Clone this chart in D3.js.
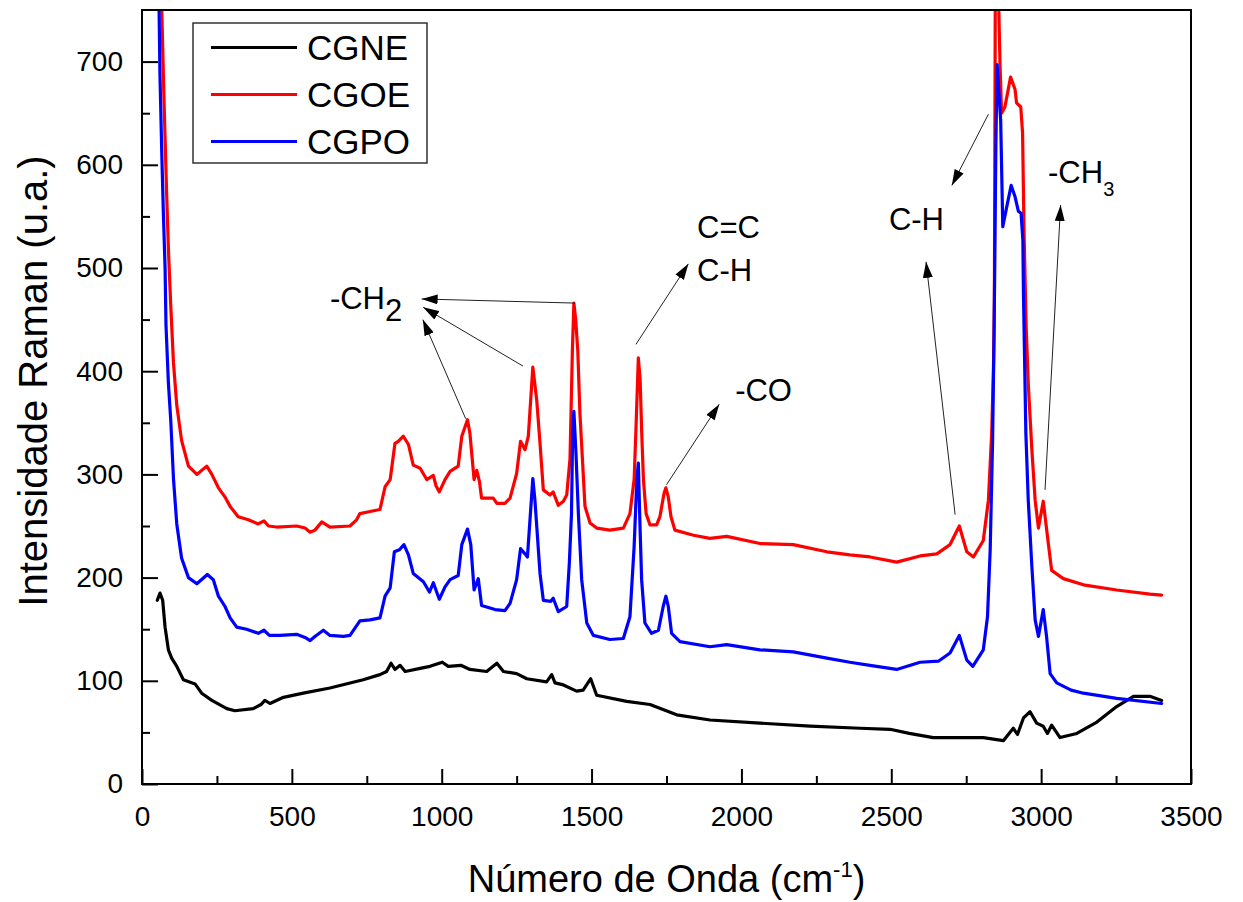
<!DOCTYPE html>
<html>
<head>
<meta charset="utf-8">
<script src="https://cdn.jsdelivr.net/npm/d3@7"></script>
<style>
  html, body { margin: 0; padding: 0; background: #ffffff; }
  svg { display: block; font-family: "Liberation Sans", Arial, Helvetica, sans-serif; }
</style>
</head>
<body>
<svg id="chart" width="1243" height="902"></svg>
<script>
// Raman spectra: [wavenumber (cm-1), intensity (u.a.)]
const CGNE = [
  [51,178],[60,185],[69,178],[77,152],[88,130],[99,122],[116,114],[138,101],[177,97],[199,88],
  [233,81],[283,73],[310,71],[371,73],[397,77],[410,81],[427,78],[472,84],[538,88],[627,93],
  [738,101],[794,106],[816,109],[831,117],[844,111],[861,115],[878,109],[928,112],[961,114],[1002,118],
  [1022,114],[1064,115],[1094,111],[1150,109],[1184,117],[1206,109],[1250,107],[1284,102],[1350,99],[1367,106],
  [1378,98],[1406,96],[1450,90],[1472,91],[1497,102],[1517,86],[1617,80],[1695,77],[1784,67],[1895,62],
  [2062,59],[2229,56],[2396,54],[2496,53],[2560,49],[2640,45],[2807,45],[2874,42],[2907,54],[2921,48],
  [2941,64],[2963,70],[2985,59],[3007,56],[3021,49],[3035,57],[3063,45],[3119,49],[3186,60],[3252,75],
  [3308,85],[3363,85],[3402,81]
];

const CGOE = [
  [62,800],[66,750],[73,667],[82,574],[88,519],[96,463],[105,408],[116,367],[132,333],[155,308],
  [183,300],[216,308],[233,300],[255,287],[277,278],[294,269],[321,259],[355,256],[388,252],[407,255],
  [422,250],[449,249],[516,250],[544,248],[561,244],[577,246],[600,254],[627,249],[694,250],[716,256],
  [727,262],[761,264],[794,266],[811,288],[828,295],[844,330],[855,332],[872,337],[889,329],[905,309],
  [928,306],[950,295],[972,299],[981,289],[992,283],[1011,295],[1028,303],[1055,308],[1067,337],[1086,353],
  [1094,340],[1108,295],[1117,304],[1126,293],[1133,277],[1172,277],[1184,272],[1211,272],[1228,277],[1250,301],
  [1263,332],[1278,324],[1289,337],[1304,404],[1317,372],[1328,330],[1339,285],[1361,280],[1372,283],[1389,270],
  [1406,274],[1417,280],[1428,315],[1436,420],[1441,466],[1447,450],[1454,420],[1461,360],[1470,312],[1478,269],
  [1495,253],[1517,248],[1561,246],[1606,248],[1628,262],[1642,295],[1648,343],[1656,413],[1662,392],[1667,343],
  [1673,295],[1682,262],[1695,251],[1717,251],[1728,259],[1742,282],[1748,287],[1756,278],[1765,259],[1778,246],
  [1840,241],[1895,238],[1951,240],[2062,233],[2173,232],[2285,225],[2362,222],[2429,220],[2518,215],[2596,221],
  [2652,223],[2696,232],[2727,250],[2752,225],[2774,220],[2807,236],[2824,275],[2835,340],[2841,404],[2844,469],
  [2847,760],[2852,800],[2858,760],[2863,695],[2868,650],[2879,656],[2898,685],[2913,673],[2918,660],[2932,656],
  [2938,631],[2943,534],[2950,443],[2957,388],[2969,324],[2980,275],[2991,248],[3007,274],[3024,233],[3035,207],
  [3074,199],[3141,193],[3252,188],[3363,184],[3402,183]
];

const CGPO = [
  [54,800],[57,750],[60,686],[66,611],[71,556],[77,500],[80,445],[88,389],[96,352],[105,296],
  [116,252],[132,219],[155,200],[183,194],[218,203],[238,198],[255,182],[277,172],[294,161],[316,152],
  [349,150],[388,146],[407,149],[425,144],[460,144],[516,145],[544,142],[561,139],[577,143],[605,149],
  [627,144],[672,143],[694,144],[727,158],[761,159],[794,161],[811,182],[828,190],[842,225],[859,227],
  [874,232],[889,222],[905,204],[939,196],[959,186],[972,195],[992,179],[1011,191],[1028,198],[1055,202],
  [1067,232],[1086,247],[1097,232],[1108,188],[1122,199],[1133,173],[1178,169],[1211,168],[1228,175],[1250,198],
  [1263,228],[1278,223],[1286,220],[1304,296],[1311,275],[1328,204],[1339,178],[1364,177],[1372,180],[1389,167],
  [1417,172],[1426,215],[1433,262],[1437,343],[1441,361],[1448,320],[1456,262],[1467,198],[1484,156],[1506,144],
  [1561,140],[1606,141],[1628,162],[1642,230],[1651,295],[1656,311],[1662,246],[1667,198],[1678,156],[1700,146],
  [1723,149],[1739,172],[1748,182],[1756,172],[1767,146],[1795,138],[1895,133],[1951,135],[2062,130],[2173,128],
  [2285,122],[2362,118],[2429,115],[2518,111],[2596,118],[2657,119],[2696,127],[2727,144],[2752,120],[2772,114],
  [2807,130],[2821,162],[2830,227],[2838,333],[2843,437],[2849,620],[2853,697],[2858,675],[2865,643],[2872,540],
  [2885,559],[2900,580],[2913,569],[2924,555],[2933,553],[2939,527],[2941,475],[2949,340],[2957,275],[2969,211],
  [2980,159],[2991,143],[3007,169],[3018,143],[3030,107],[3052,98],[3100,91],[3141,88],[3252,83],[3402,78]
];

const seriesNames  = ["CGNE", "CGOE", "CGPO"];
const seriesColors = ["#000000", "#ff0000", "#0000ff"];
const seriesData   = [CGNE, CGOE, CGPO];

const xTicks      = [0, 500, 1000, 1500, 2000, 2500, 3000, 3500];
const xMinorTicks = [250, 750, 1250, 1750, 2250, 2750, 3250];
const yTicks      = [0, 100, 200, 300, 400, 500, 600, 700];
const yMinorTicks = [50, 150, 250, 350, 450, 550, 650];

// Band assignments: arrows run from the band to the label (data units)
const arrowLines = [
  { from: [1445, 466], to: [933, 470] },
  { from: [1271, 405], to: [938, 462] },
  { from: [1080, 354], to: [937, 450] },
  { from: [1648, 426], to: [1823, 504] },
  { from: [1750, 290], to: [1926, 368] },
  { from: [2824, 649], to: [2702, 580] },
  { from: [2713, 261], to: [2616, 506] },
  { from: [3013, 285], to: [3065, 561] }
];
const bandLabels = [
  { text: "-CH", sub: "2", x: 627,  y: 460, subSize: 31, subDy: 12 },
  { text: "C=C",           x: 1852, y: 529 },
  { text: "C-H",           x: 1852, y: 487 },
  { text: "-CO",           x: 1979, y: 371 },
  { text: "C-H",           x: 2492, y: 537 },
  { text: "-CH", sub: "3", x: 3023, y: 582, subSize: 20, subDy: 13 }
];

const svg = d3.select("#chart");
const plot = { left: 142, top: 10, right: 1191, bottom: 784 };

const x = d3.scaleLinear().domain([0, 3500]).range([plot.left, plot.right]);
const y = d3.scaleLinear().domain([0, 750]).range([plot.bottom, plot.top]);

const defs = svg.append("defs");
defs.append("clipPath").attr("id", "plot-clip")
  .append("rect")
  .attr("x", plot.left).attr("y", plot.top)
  .attr("width", plot.right - plot.left).attr("height", plot.bottom - plot.top);

defs.append("marker")
  .attr("id", "arrowhead")
  .attr("markerUnits", "userSpaceOnUse")
  .attr("viewBox", "0 0 16 10")
  .attr("refX", 16).attr("refY", 5)
  .attr("markerWidth", 16).attr("markerHeight", 10)
  .attr("orient", "auto")
  .append("path").attr("d", "M0,0 L16,5 L0,10 Z").attr("fill", "#000");

// Spectra
const line = d3.line().x(d => x(d[0])).y(d => y(d[1])).curve(d3.curveLinear);
const lines = svg.append("g").attr("clip-path", "url(#plot-clip)");
seriesData.forEach((data, i) => {
  lines.append("path")
    .datum(data)
    .attr("d", line)
    .attr("fill", "none")
    .attr("stroke", seriesColors[i])
    .attr("stroke-width", 3.2)
    .attr("stroke-linejoin", "round")
    .attr("stroke-linecap", "round");
});

// Axes (ticks point inward)
function styleAxis(g) {
  g.select(".domain").remove();
  g.selectAll(".tick line").attr("stroke", "#000").attr("stroke-width", 2);
  g.selectAll(".tick text")
    .attr("fill", "#000")
    .style("font-family", '"Liberation Sans", Arial, sans-serif')
    .style("font-size", "28px");
}

svg.append("g")
  .attr("transform", `translate(0,${plot.bottom})`)
  .call(d3.axisBottom(x).tickValues(xTicks).tickSizeInner(-15).tickSizeOuter(0).tickPadding(22).tickFormat(d3.format("d")))
  .call(styleAxis);
svg.append("g")
  .attr("transform", `translate(0,${plot.bottom})`)
  .call(d3.axisBottom(x).tickValues(xMinorTicks).tickSizeInner(-8).tickSizeOuter(0).tickFormat(""))
  .call(styleAxis);
svg.append("g")
  .attr("transform", `translate(${plot.left},0)`)
  .call(d3.axisLeft(y).tickValues(yTicks).tickSizeInner(-16).tickSizeOuter(0).tickPadding(19).tickFormat(d3.format("d")))
  .call(styleAxis);
svg.append("g")
  .attr("transform", `translate(${plot.left},0)`)
  .call(d3.axisLeft(y).tickValues(yMinorTicks).tickSizeInner(-8).tickSizeOuter(0).tickFormat(""))
  .call(styleAxis);

// Frame
svg.append("rect")
  .attr("x", plot.left).attr("y", plot.top)
  .attr("width", plot.right - plot.left).attr("height", plot.bottom - plot.top)
  .attr("fill", "none").attr("stroke", "#000").attr("stroke-width", 2);

// Axis titles
const xTitle = svg.append("text")
  .attr("x", (plot.left + plot.right) / 2).attr("y", 892)
  .attr("text-anchor", "middle")
  .style("font-size", "38px").attr("fill", "#000");
xTitle.append("tspan").text("Número de Onda (cm");
xTitle.append("tspan").attr("dy", -15).style("font-size", "22px").text("-1");
xTitle.append("tspan").attr("dy", 15).text(")");

svg.append("text")
  .attr("transform", "translate(47,381) rotate(-90)")
  .attr("text-anchor", "middle")
  .style("font-size", "40px").attr("fill", "#000")
  .text("Intensidade Raman (u.a.)");

// Band annotations
const ann = svg.append("g");
arrowLines.forEach(a => {
  ann.append("line")
    .attr("x1", x(a.from[0])).attr("y1", y(a.from[1]))
    .attr("x2", x(a.to[0])).attr("y2", y(a.to[1]))
    .attr("stroke", "#222").attr("stroke-width", 1)
    .attr("marker-end", "url(#arrowhead)");
});
bandLabels.forEach(l => {
  const t = ann.append("text")
    .attr("x", x(l.x)).attr("y", y(l.y))
    .style("font-size", "31px").attr("fill", "#000");
  t.append("tspan").text(l.text);
  if (l.sub) {
    t.append("tspan").attr("dy", l.subDy).style("font-size", l.subSize + "px").text(l.sub);
  }
});

// Legend
const legend = svg.append("g");
legend.append("rect")
  .attr("x", 193).attr("y", 23).attr("width", 234).attr("height", 140)
  .attr("fill", "#fff").attr("stroke", "#333").attr("stroke-width", 1.5);
seriesNames.forEach((name, i) => {
  const ly = 47.5 + i * 47;
  legend.append("line")
    .attr("x1", 211).attr("x2", 297).attr("y1", ly).attr("y2", ly)
    .attr("stroke", seriesColors[i]).attr("stroke-width", 3);
  legend.append("text")
    .attr("x", 307).attr("y", ly + 12.5)
    .style("font-size", "35px").attr("fill", "#000")
    .text(name);
});
</script>
</body>
</html>
